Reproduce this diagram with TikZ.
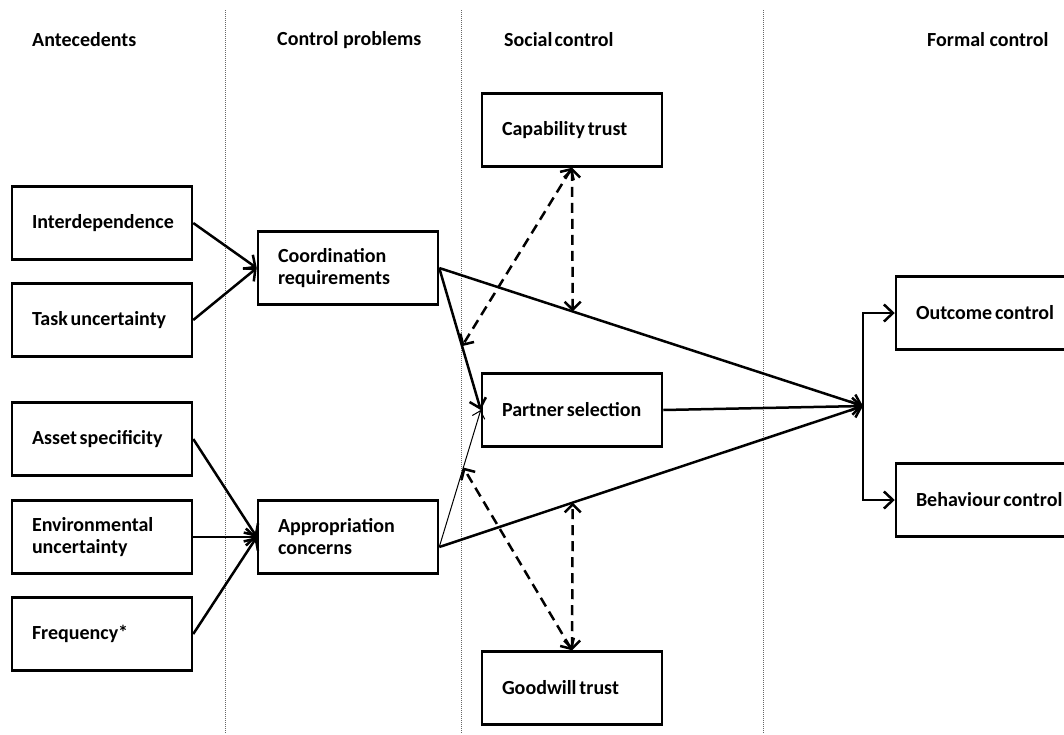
\documentclass[tikz,border=0pt]{standalone}
\usepackage{fontspec}
\setmainfont{Carlito}
\usetikzlibrary{calc}
\usetikzlibrary{arrows.meta}
\hyphenpenalty=10000
\exhyphenpenalty=10000
% 方框字体
\newcommand{\boxfont}{\fontsize{20}{22}\selectfont\bfseries}

\begin{document}
\begin{tikzpicture}[x=1pt, y=-1pt]
        % ================= 样式定义 =================
        \tikzset{
            % 白底黑边方框 (文字左对齐, 字间空格收紧)
            cbox/.style={rectangle, draw=black, line width=2.5pt, fill=white, minimum width=180pt, minimum height=73pt,
                text width=140pt, inner xsep=20pt, inner ysep=0pt, align=left, font=\boxfont,
                execute at begin node={\spaceskip=2.8pt\xspaceskip=2.8pt\relax}},
            % 栏目标题
            head/.style={anchor=west, inner sep=0pt, font=\fontsize{20}{22}\selectfont\bfseries},
            % 灰色点线分栏
            sep_line/.style={black!60, line width=0.9pt, dash pattern=on 1pt off 1pt},
            % 粗实线箭头
            solid_edge/.style={line width=2.5pt, black, -{Straight Barb[length=9pt, width=17pt]}},
            % 细实线箭头
            thin_edge/.style={line width=1pt, black, -{Straight Barb[length=7pt, width=13pt]}},
            % 双向虚线箭头 (调节作用)
            dash_edge/.style={line width=2.5pt, black, dash pattern=on 10pt off 6pt,
                {Straight Barb[length=8pt, width=16pt]}-{Straight Barb[length=8pt, width=16pt]}}
        }

        % ================= 画布范围 =================
        \useasboundingbox (0,0) rectangle (1064,734);
        \fill[white] (0,0) rectangle (1064,734);

        % ================= 分栏点线 =================
        \foreach \sx in {225, 461, 763} \draw[sep_line] (\sx,10) -- (\sx,734);

        % ================= 栏目标题 =================
        \node[head] (h_ante) at (32,40) {Antecedents};
        \node[head] (h_prob) at (277,40) {Control problems};
        \node[head] (h_soc) at (504,40) {Social\hspace{2pt}control};
        \node[head] (h_form) at (927,40) {Formal control};

        % ================= 放置节点 =================
        % 前因
        \node[cbox] (interdep) at (102,223) {Interdependence};
        \node[cbox] (taskunc) at (102,320) {\mbox{Task uncertainty}};
        \node[cbox] (asset) at (102,439) {\mbox{Asset specificity}};
        \node[cbox] (envunc) at (102,537) {Environmental\\uncertainty};
        \node[cbox] (freq) at (102,634) {Frequency*};

        % 控制问题
        \node[cbox] (coord) at (348,268) {Coordination\\requirements};
        \node[cbox] (approp) at (348,537) {Appropriation\\concerns};

        % 社会控制
        \node[cbox] (captrust) at (572,130) {\mbox{Capability trust}};
        \node[cbox] (partner) at (572,410) {\mbox{Partner selection}};
        \node[cbox] (goodtrust) at (572,688) {\mbox{Goodwill trust}};

        % 正式控制
        \node[cbox] (outcome) at (986,313) {\mbox{Outcome control}};
        \node[cbox] (behav) at (986,500) {\mbox{Behaviour control}};

        % ================= 坐标定义 =================
        \coordinate (join) at (863,406);
        \coordinate (apout) at ($(approp.east)+(0,10)$);
        % 调节作用落点
        \coordinate (m_cp) at ($(coord.east)!0.55!(partner.west)$);
        \coordinate (m_cf) at ($(coord.east)!0.315!(join)$);
        \coordinate (m_ap) at ($(apout)!0.58!(partner.west)$);
        \coordinate (m_af) at ($(apout)!0.315!(join)$);

        % ================= 绘制连边 =================
        % 1. 前因 -> 控制问题
        \draw[solid_edge] (interdep.east) -- (coord.west);
        \draw[solid_edge] (taskunc.east) -- (coord.west);
        \draw[solid_edge] (asset.east) -- (approp.west);
        \draw[solid_edge] (envunc.east) -- (approp.west);
        \draw[solid_edge] (freq.east) -- (approp.west);

        % 2. 控制问题 -> 伙伴选择 / 正式控制
        \draw[solid_edge] (coord.east) -- (partner.west);
        \draw[thin_edge] (apout) -- (partner.west);
        \draw[solid_edge] (coord.east) -- (join);
        \draw[solid_edge] (apout) -- (join);
        \draw[solid_edge] (partner.east) -- (join);

        % 3. 分叉到两种正式控制
        \draw[solid_edge] (join) |- (outcome.west);
        \draw[solid_edge] (join) |- (behav.west);

        % 4. 信任的调节作用 (虚线)
        \draw[dash_edge] (captrust.south) -- (m_cp);
        \draw[dash_edge] (captrust.south) -- (m_cf);
        \draw[dash_edge] (goodtrust.north) -- (m_ap);
        \draw[dash_edge] (goodtrust.north) -- (m_af);

\end{tikzpicture}
\end{document}
